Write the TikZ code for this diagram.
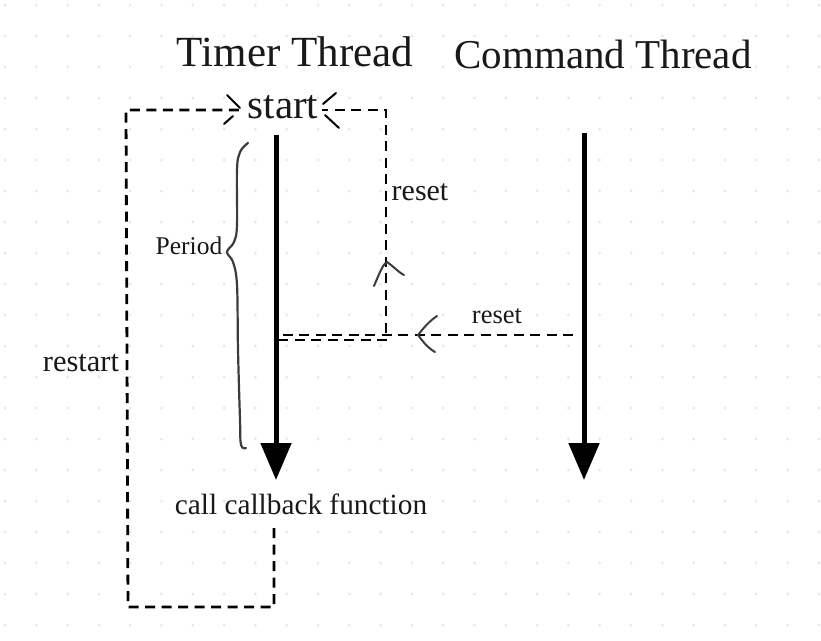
\documentclass[tikz,border=0pt]{standalone}
\usepackage{fontspec}
\setmainfont{Liberation Serif}
\usetikzlibrary{arrows.meta}
\definecolor{dotc}{HTML}{E2E7E7}
\definecolor{penc}{HTML}{3C3C3C}
\newcommand{\fsz}[1]{\fontsize{#1}{#1}\selectfont}
\tikzset{
  thread/.style={line width=5pt, -{Triangle[width=30pt,length=37pt]}},
  dashline/.style={line width=2.8pt, dash pattern=on 10pt off 6.5pt},
  chev/.style={line width=2pt, penc, line cap=round, line join=round},
  lab/.style={inner sep=0pt, text=black!90},
}
\begin{document}
\begin{tikzpicture}[x=1pt,y=-1pt]
\useasboundingbox (0,0) rectangle (821,640);
\fill[white] (0,0) rectangle (821,640);
\foreach \i in {0,...,26}{\foreach \j in {0,...,20}{
  \fill[dotc] ({5+31.3*\i},{5+31*\j}) circle (1.5pt);}}
% titles
\node[lab, font=\fsz{43}] (tt) at (295,52) {Timer Thread};
\node[lab, font=\fsz{41}] (ct) at (603,54) {Command Thread};
\node[lab, font=\fsz{41}, inner sep=2pt] (start) at (283,107) {start};
% threads
\coordinate (t0) at (276,135); \coordinate (t1) at (276,480);
\coordinate (c0) at (584,133); \coordinate (c1) at (584,480);
\draw[thread] (t0) -- (t1);
\draw[thread] (c0) -- (c1);
% labels
\node[lab, font=\fsz{25.5}] (period) at (189,246) {Period};
\node[lab, font=\fsz{30.5}] (restart) at (81,363) {restart};
\node[lab, font=\fsz{30}] (reset1) at (420,192) {reset};
\node[lab, font=\fsz{26.5}] (reset2) at (497,316) {reset};
\node[lab, font=\fsz{29.3}] (cb) at (301,504) {call callback function};
% restart loop
\coordinate (r0) at (274,528); \coordinate (r1) at (274,607);
\coordinate (r2) at (128,607); \coordinate (r3) at (126,110);
\coordinate (r4) at (240,110);
\draw[dashline] (r0) -- (r1) -- (r2) -- (r3) -- (r4);
% reset loop
\coordinate (s0) at (278,340); \coordinate (s1) at (386,340);
\coordinate (s2) at (386,110); \coordinate (s3) at (322,110);
\draw[dashline] (s0) -- (s1) -- (s2) -- (s3);
% reset from command
\coordinate (m0) at (573,335); \coordinate (m1) at (278,335);
\draw[dashline] (m0) -- (m1);
% hand drawn chevrons
\draw[chev, black] (227,95) -- (240,108);
\draw[chev, black] (224,124) -- (233,116);
\draw[chev, black] (336,93) -- (323,104);
\draw[chev, black] (325,115) -- (339,128);
\draw[chev] (374,286) .. controls (380,272) and (383,264) .. (387,262) .. controls (392,265) and (398,272) .. (404,275);
\draw[chev] (437,316) .. controls (428,322) and (422,330) .. (418,335) .. controls (424,343) and (428,348) .. (435,352);
% brace
\draw[chev, line width=2.2pt] plot[smooth, tension=0.6] coordinates {(248,143) (240,152) (237,170) (237,225) (234,242) (227,252) (233,262) (237,285) (238,350) (240,420) (241,445) (246,448)};
\end{tikzpicture}
\end{document}
